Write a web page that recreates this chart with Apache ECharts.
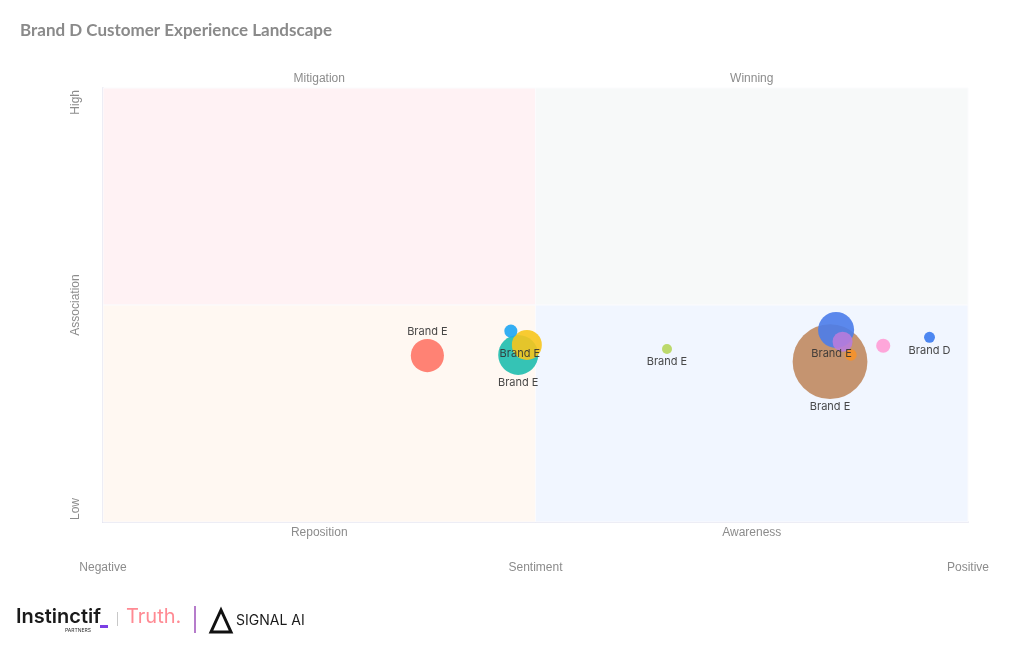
<!DOCTYPE html>
<html>
<head>
<meta charset="utf-8">
<script src="https://cdn.jsdelivr.net/npm/echarts@6/dist/echarts.min.js"></script>
<style>
html,body{margin:0;padding:0;background:#fff;}
#chart{width:1024px;height:650px;}
</style>
</head>
<body>
<div id="chart"></div>
<script>
// ---- data ----
var brands = ['Brand E','Brand E','Brand E','Brand E','Brand E','Brand E','Brand E','Brand E','Brand E','Brand E','Brand D'];
var sentiment = [-25.0, -4.0, -2.0, -5.7, 30.4, 68.1, 69.5, 71.0, 72.9, 80.4, 91.1];
var association = [-23.3, -23.0, -18.4, -12.0, -20.3, -26.1, -11.5, -16.9, -23.0, -18.8, -14.9];
var volume = [110, 160, 90, 17, 10, 560, 130, 40, 14, 20, 12];
var xTickLabels = {'-100':'Negative','0':'Sentiment','100':'Positive'};
var yTickLabels = {'-100':'Low','0':'Association','100':'High'};
var quadrantNames = ['Mitigation','Winning','Reposition','Awareness'];

// ---- styles ----
var colors = ['#FF7466','#1FBDAE','#F7C51C','#1EA5F3','#B6D65C','#C08A60','#4A7CEA','#B87CDC','#F5912A','#FF9DD6','#3B7BF0'];
var labelCfg = [
  {show:true, position:'top', distance:2},
  {show:true, position:'bottom', distance:2},
  {show:true, position:'inside', offset:[-7,9]},
  {show:false},
  {show:true, position:'bottom', distance:2},
  {show:true, position:'bottom', distance:2},
  {show:false},
  {show:true, position:'inside', offset:[-11,12]},
  {show:false},
  {show:false},
  {show:true, position:'bottom', distance:2}
];

var points = brands.map(function(b,i){
  return {
    name: b,
    value: [sentiment[i], association[i], volume[i]],
    itemStyle: {color: colors[i], opacity: 0.9},
    label: labelCfg[i]
  };
});

var chart = echarts.init(document.getElementById('chart'));
var quadLabelTop = {position:'top', color:'#8c8c8c', fontFamily:'Liberation Sans Narrow, Liberation Sans, Arial', fontSize:12, distance:3};
var quadLabelBottom = {position:'bottom', color:'#8c8c8c', fontFamily:'Liberation Sans Narrow, Liberation Sans, Arial', fontSize:12, distance:4};
var option = {
  animation:false,
  title:{
    text:'Brand D Customer Experience Landscape',
    left:15, top:17,
    textStyle:{color:'#8a8a8a', fontSize:17, fontWeight:'bold', fontFamily:'Lato, Open Sans, sans-serif'}
  },
  grid:{left:103, right:56, top:88, bottom:128},
  xAxis:{
    type:'value', min:-100, max:100, interval:100,
    axisLine:{show:true, onZero:false, lineStyle:{color:'#d6d6e8', width:1.5}},
    axisTick:{show:false},
    splitLine:{show:false},
    axisLabel:{
      margin:40, color:'#8c8c8c', fontSize:12,
      fontFamily:'Liberation Sans Narrow, Liberation Sans, Arial',
      formatter:function(v){return xTickLabels[String(v)]||'';}
    }
  },
  yAxis:{
    type:'value', min:-100, max:100, interval:100,
    axisLine:{show:true, onZero:false, lineStyle:{color:'#d6d6e8', width:1.5}},
    axisTick:{show:false},
    splitLine:{show:false},
    axisLabel:{
      rotate:90, margin:27, color:'#8c8c8c', fontSize:12,
      align:'center', verticalAlign:'middle',
      alignMinLabel:'left', alignMaxLabel:'right',
      padding:[0,2,0,2],
      fontFamily:'Liberation Sans Narrow, Liberation Sans, Arial',
      formatter:function(v){return yTickLabels[String(v)]||'';}
    }
  },
  series:[{
    type:'scatter',
    symbolSize:function(val){return Math.sqrt(val[2])*3.16;},
    label:{color:'#333', fontSize:11, fontFamily:'Inter, Liberation Sans, sans-serif', formatter:'{b}'},
    emphasis:{disabled:true},
    data:points,
    markArea:{
      silent:true,
      data:[
        [{name:quadrantNames[0], xAxis:-100, yAxis:0, itemStyle:{color:'#FFF2F4'}, label:quadLabelTop},{xAxis:0, yAxis:100}],
        [{name:quadrantNames[1], xAxis:0, yAxis:0, itemStyle:{color:'#F7F9F9'}, label:quadLabelTop},{xAxis:100, yAxis:100}],
        [{name:quadrantNames[2], xAxis:-100, yAxis:-100, itemStyle:{color:'#FFF8F2'}, label:quadLabelBottom},{xAxis:0, yAxis:0}],
        [{name:quadrantNames[3], xAxis:0, yAxis:-100, itemStyle:{color:'#F1F6FF'}, label:quadLabelBottom},{xAxis:100, yAxis:0}]
      ],
      itemStyle:{borderColor:'#fbfbfd', borderWidth:1, opacity:1}
    }
  }],
  graphic:[
    {type:'text', left:16, top:607, style:{text:'Instinctif', fill:'#1a1a1a', font:'600 20px Inter, Liberation Sans, sans-serif'}},
    {type:'rect', shape:{x:100, y:625, width:8, height:3}, style:{fill:'#7B3FE4'}},
    {type:'text', left:65, top:628, style:{text:'PARTNERS', fill:'#333', font:'5px Inter, Liberation Sans, sans-serif'}},
    {type:'rect', shape:{x:117, y:612, width:1, height:14}, style:{fill:'#c8c8c8'}},
    {type:'text', left:126, top:607, style:{text:'Truth.', fill:'#FF8A93', font:'20px Inter, Liberation Sans, sans-serif'}},
    {type:'rect', shape:{x:194, y:606, width:2, height:27}, style:{fill:'#B67CCB'}},
    {type:'polygon', shape:{points:[[221,610],[231,632],[211,632]]}, style:{fill:'none', stroke:'#111', lineWidth:3}},
    {type:'text', left:236, top:614, style:{text:'SIGNAL AI', fill:'#1a1a1a', font:'14px Inter, Liberation Sans, sans-serif'}}
  ]
};
chart.setOption(option);
</script>
</body>
</html>
